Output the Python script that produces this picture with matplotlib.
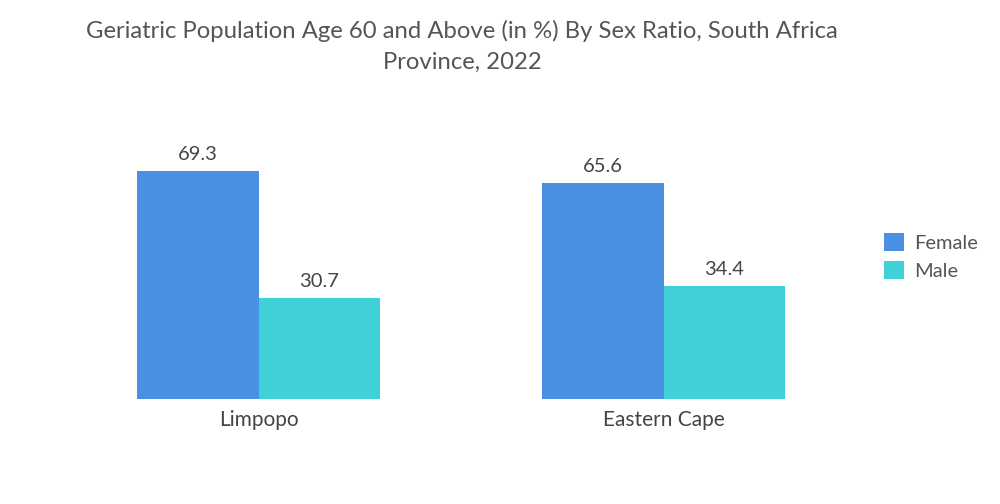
import numpy as np
import matplotlib
matplotlib.use("Agg")
import matplotlib.pyplot as plt

plt.rcParams['font.family'] = ['Lato', 'DejaVu Sans']

provinces = ["Limpopo", "Eastern Cape"]
female = [69.3, 65.6]
male = [30.7, 34.4]

c_female = "#4a90e2"
c_male = "#40d0d8"
txt = "#555555"

fig = plt.figure(figsize=(10, 5.04), dpi=100)
ax = fig.add_axes([0.056, 105 / 504, 0.81, 280 / 504])

x = np.arange(len(provinces))
w = 0.3
b1 = ax.bar(x - w / 2, female, w, color=c_female, label="Female")
b2 = ax.bar(x + w / 2, male, w, color=c_male, label="Male")

for bars in (b1, b2):
    for b in bars:
        ax.text(b.get_x() + b.get_width() / 2, b.get_height() + 2.3, f"{b.get_height():.1f}",
                ha="center", va="bottom", fontsize=14.5, color="#444444")

ax.set_xlim(-0.5, 1.5)
ax.set_ylim(0, 85)
ax.set_xticks(x)
ax.set_xticklabels(provinces, fontsize=15, color="#444444")
ax.tick_params(axis="x", length=0, pad=8)
ax.set_yticks([])
for s in ax.spines.values():
    s.set_visible(False)

fig.text(0.462, 0.96, "Geriatric Population Age 60 and Above (in %) By Sex Ratio, South Africa\nProvince, 2022",
         ha="center", va="top", fontsize=17.2, color=txt, linespacing=1.55)

ax.legend(loc="center left", bbox_to_anchor=(1.0, 0.51), frameon=False, fontsize=14.5,
          handlelength=1.0, handleheight=1.0, handletextpad=0.5, labelspacing=0.45,
          labelcolor="#555555")

fig.savefig("out.png", dpi=100)
